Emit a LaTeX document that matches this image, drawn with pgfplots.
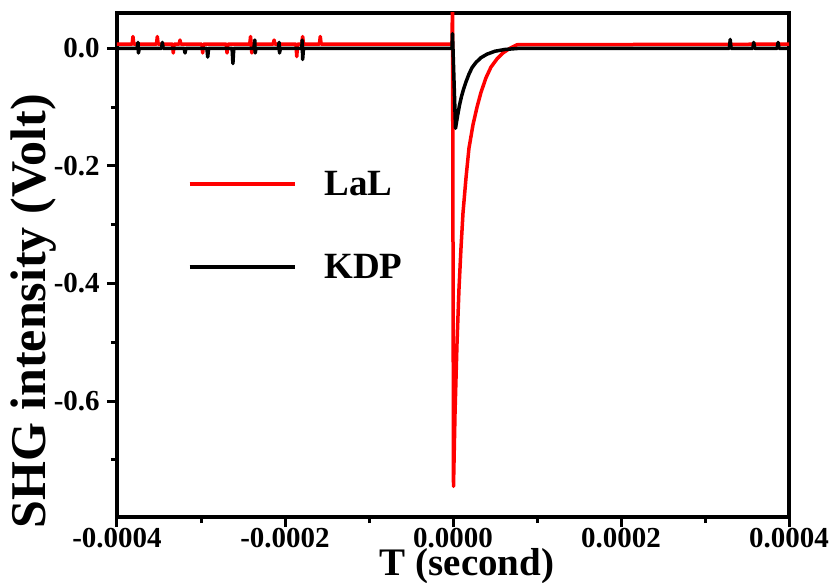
\documentclass[border=0pt]{standalone}
\usepackage{fontspec}
\setmainfont{Liberation Serif}
\usepackage{pgfplots}
\pgfplotsset{compat=1.18}
\begin{document}
\begin{tikzpicture}
\begin{axis}[
  at={(0pt,0pt)}, anchor=south west,
  scale only axis, width=672pt, height=504pt,
  xmin=-4e-4, xmax=4e-4, ymin=-0.797, ymax=0.06,
  scaled x ticks=false, scaled y ticks=false,
  xtick={-4e-4,-2e-4,0,2e-4,4e-4},
  xticklabels={-0.0004,-0.0002,0.0000,0.0002,0.0004},
  minor xtick={-3e-4,-1e-4,1e-4,3e-4},
  ytick={-0.6,-0.4,-0.2,0},
  yticklabels={-0.6,-0.4,-0.2,0.0},
  minor ytick={-0.7,-0.5,-0.3,-0.1},
  tick pos=left, tick align=outside,
  major tick length=10pt, minor tick length=6pt,
  every tick/.style={black, line width=3pt},
  axis line style={line width=4pt},
  every axis/.append style={line width=4pt},
  tick label style={font=\fontsize{29}{29}\selectfont\bfseries},
  xticklabel style={yshift=4pt},
  yticklabel style={xshift=-2pt},
  xlabel={T (second)},
  ylabel={SHG intensity (Volt)},
  xlabel style={at={(axis description cs:0.521,0)}, anchor=base, yshift=-58pt, font=\fontsize{39}{39}\selectfont\bfseries},
  ylabel style={at={(axis description cs:-0.107,0.408)}, anchor=base, font=\fontsize{50}{50}\selectfont\bfseries},
  legend style={at={(axis description cs:0.098,0.694)}, anchor=north west, draw=none, fill=none,
    font=\fontsize{37}{37}\selectfont\bfseries, row sep=57pt, nodes={inner sep=0pt},
    /tikz/every odd column/.append style={column sep=28pt}},
  legend image code/.code={\draw[#1,line width=3.5pt] (0pt,0pt) -- (105pt,0pt);},
  legend cell align=left,
]
\addplot[red, line width=3.5pt, line join=round] coordinates {
(-4.0e-4,0.007) (-3.82e-4,0.007) (-3.81e-4,0.020) (-3.80e-4,0.007)
(-3.53e-4,0.007) (-3.52e-4,0.020) (-3.51e-4,0.007)
(-3.34e-4,0.007) (-3.33e-4,-0.008) (-3.32e-4,0.007)
(-3.26e-4,0.007) (-3.25e-4,0.014) (-3.24e-4,0.007)
(-2.99e-4,0.007) (-2.98e-4,-0.008) (-2.97e-4,0.007)
(-2.70e-4,0.007) (-2.69e-4,-0.008) (-2.68e-4,0.007)
(-2.42e-4,0.007) (-2.41e-4,0.020) (-2.395e-4,-0.008) (-2.385e-4,0.007)
(-2.14e-4,0.007) (-2.13e-4,0.014) (-2.12e-4,0.007)
(-1.87e-4,0.007) (-1.86e-4,-0.014) (-1.85e-4,0.007)
(-1.80e-4,0.007) (-1.79e-4,0.020) (-1.78e-4,0.007)
(-1.59e-4,0.007) (-1.58e-4,0.020) (-1.57e-4,0.007)
(-1.2e-6,0.007) (-0.6e-6,0.08) (0.6e-6,-0.745)
(2.4e-6,-0.62) (4.8e-6,-0.50) (7.1e-6,-0.41) (9.5e-6,-0.34) (11.9e-6,-0.28)
(15.5e-6,-0.22) (19.0e-6,-0.17) (23.8e-6,-0.13) (28.6e-6,-0.10) (33.3e-6,-0.075)
(39.3e-6,-0.05) (45.2e-6,-0.032) (52.4e-6,-0.018) (59.5e-6,-0.008) (67.9e-6,0.0)
(76.2e-6,0.006) (4.0e-4,0.007)
};
\addlegendentry{LaL}
\addplot[black, line width=3.5pt, line join=round] coordinates {
(-4.0e-4,0) (-3.76e-4,0) (-3.75e-4,0.010) (-3.745e-4,-0.008) (-3.735e-4,0)
(-3.47e-4,0) (-3.46e-4,0.010) (-3.45e-4,0)
(-3.20e-4,0) (-3.19e-4,-0.008) (-3.18e-4,0)
(-2.93e-4,0) (-2.92e-4,-0.015) (-2.91e-4,0)
(-2.63e-4,0) (-2.62e-4,-0.026) (-2.61e-4,0)
(-2.37e-4,0) (-2.36e-4,0.014) (-2.355e-4,-0.008) (-2.345e-4,0)
(-2.08e-4,0) (-2.07e-4,0.010) (-2.065e-4,-0.008) (-2.055e-4,0)
(-1.80e-4,0) (-1.795e-4,0.014) (-1.79e-4,-0.019) (-1.78e-4,0)
(-1.2e-6,0) (-0.6e-6,0.025) (3.0e-6,-0.136) (5.4e-6,-0.115) (7.7e-6,-0.097)
(10.1e-6,-0.082) (12.5e-6,-0.070) (15.5e-6,-0.057) (19.0e-6,-0.044) (22.6e-6,-0.033)
(27.4e-6,-0.024) (33.3e-6,-0.016) (40.5e-6,-0.010) (50.0e-6,-0.005) (61.9e-6,-0.002)
(79.8e-6,0) (3.29e-4,0) (3.30e-4,0.015) (3.31e-4,0)
(3.57e-4,0) (3.58e-4,0.010) (3.59e-4,0)
(3.86e-4,0) (3.87e-4,0.010) (3.88e-4,0) (4.0e-4,0)
};
\addlegendentry{KDP}
\end{axis}
\pgfresetboundingbox
\useasboundingbox (-117pt,-65pt) rectangle (717pt,517pt);
\end{tikzpicture}
\end{document}
